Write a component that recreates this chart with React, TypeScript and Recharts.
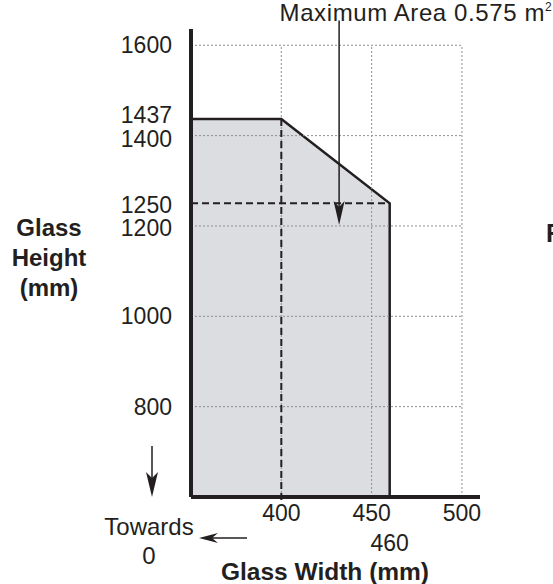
import React from 'react';
import { ComposedChart, Area, XAxis, YAxis, ReferenceLine, ReferenceDot } from 'recharts';

// outline of the permitted glass size (width mm, height mm)
const outline = [
    { w: 350, h: 1437 },
    { w: 400, h: 1437 },
    { w: 460, h: 1250 },
    { w: 460, h: 600 },
];

const xTicks = [400, 450, 460, 500];
const yTicks = [800, 1000, 1200, 1250, 1400, 1437, 1600];
const gridX = [400, 450, 500];
const gridY = [800, 1000, 1200, 1400, 1600];

const maxAreaWidth = 432;
const maxAreaLabel = 'Maximum Area 0.575 m';

const FONT = '"Liberation Sans", Arial, sans-serif';
const INK = '#231f20';

// small nudges so the close-together labels don't sit on each other
const yLabelShift: Record<number, number> = { 1437: -4, 1400: 3, 1250: 1.5, 1200: 1.5 };

const XTick = (props: any) => {
    const { x, y, payload } = props;
    const low = payload.value === 460 ? 30 : 0;
    return (
        <text x={x} y={y + low} dy="0.71em" textAnchor="middle" fontSize={23} fontFamily={FONT} fill={INK}>
            {payload.value}
        </text>
    );
};

const YTick = (props: any) => {
    const { x, y, payload } = props;
    const shift = yLabelShift[payload.value] || 0;
    return (
        <text x={x} y={y + shift} dy="0.355em" textAnchor="end" fontSize={23} fontFamily={FONT} fill={INK}>
            {payload.value}
        </text>
    );
};

const ArrowHead = (props: any) => {
    const { cx, cy } = props;
    if (cx == null || cy == null) return <g />;
    return <path d={`M${cx - 5.5},${cy - 24} L${cx},${cy - 18} L${cx + 5.5},${cy - 24} L${cx},${cy} Z`} fill={INK} />;
};

const App: React.FC = () => {
    return (
        <div style={{ position: 'absolute', left: 0, top: 0, width: 553, height: 584, background: '#fff' }}>
            <ComposedChart
                width={553}
                height={584}
                data={outline}
                margin={{ top: 29, right: 73, left: 111, bottom: 57 }}
            >
                {gridY.map((v) => (
                    <ReferenceLine
                        key={'gy' + v}
                        segment={[{ x: 350, y: v }, { x: 500, y: v }]}
                        stroke="#8f8f8f"
                        strokeDasharray="2 2"
                        strokeWidth={1}
                    />
                ))}
                {gridX.map((v) => (
                    <ReferenceLine
                        key={'gx' + v}
                        segment={[{ x: v, y: 600 }, { x: v, y: 1600 }]}
                        stroke="#8f8f8f"
                        strokeDasharray="2 2"
                        strokeWidth={1}
                    />
                ))}
                <Area
                    type="linear"
                    dataKey="h"
                    baseValue={600}
                    stroke={INK}
                    strokeWidth={2.5}
                    fill="#dcdde0"
                    fillOpacity={1}
                    dot={false}
                    activeDot={false}
                    isAnimationActive={false}
                />
                <ReferenceLine
                    segment={[{ x: 350, y: 1250 }, { x: 460, y: 1250 }]}
                    stroke={INK}
                    strokeWidth={2}
                    strokeDasharray="7 4"
                />
                <ReferenceLine
                    segment={[{ x: 400, y: 1437 }, { x: 400, y: 587 }]}
                    stroke={INK}
                    strokeWidth={2}
                    strokeDasharray="7 4"
                    ifOverflow="visible"
                />
                <ReferenceLine
                    segment={[{ x: maxAreaWidth, y: 1655 }, { x: maxAreaWidth, y: 1215 }]}
                    stroke={INK}
                    strokeWidth={1.5}
                    ifOverflow="visible"
                />
                <ReferenceDot x={maxAreaWidth} y={1202} r={0} shape={ArrowHead} ifOverflow="visible" />
                <XAxis
                    type="number"
                    dataKey="w"
                    domain={[350, 510]}
                    ticks={xTicks}
                    allowDataOverflow
                    height={30}
                    tickLine={false}
                    axisLine={{ stroke: INK, strokeWidth: 4 }}
                    tick={XTick}
                    interval={0}
                />
                <YAxis
                    type="number"
                    domain={[600, 1636]}
                    ticks={yTicks}
                    allowDataOverflow
                    width={80}
                    tickLine={false}
                    tickMargin={13}
                    axisLine={{ stroke: INK, strokeWidth: 4 }}
                    tick={YTick}
                    interval={0}
                />
            </ComposedChart>

            <svg
                width={553}
                height={584}
                style={{ position: 'absolute', left: 0, top: 0, pointerEvents: 'none' }}
                fontFamily={FONT}
                fill={INK}
            >
                <text x={545} y={21} textAnchor="end" fontSize={24} letterSpacing={0.6}>
                    {maxAreaLabel}
                </text>
                <text x={545} y={11} fontSize={12}>2</text>

                <text x={49} y={236} textAnchor="middle" fontSize={24} fontWeight="bold">Glass</text>
                <text x={49} y={266} textAnchor="middle" fontSize={24} fontWeight="bold">Height</text>
                <text x={49} y={296} textAnchor="middle" fontSize={24} fontWeight="bold">(mm)</text>

                <text x={546} y={242} fontSize={25} fontWeight="bold">F</text>

                <line x1={152} y1={446} x2={152} y2={478} stroke={INK} strokeWidth={1.5} />
                <path d="M146,472 L152,478 L158,472 L152,497 Z" />
                <text x={149} y={535} textAnchor="middle" fontSize={24}>Towards</text>
                <text x={149} y={564} textAnchor="middle" fontSize={24}>0</text>
                <line x1={247} y1={538} x2={212} y2={538} stroke={INK} strokeWidth={1.5} />
                <path d="M218,533 L212,538 L218,543 L199,538 Z" />

                <text x={325} y={580} textAnchor="middle" fontSize={24.5} fontWeight="bold">Glass Width (mm)</text>
            </svg>
        </div>
    );
};

export default App;
